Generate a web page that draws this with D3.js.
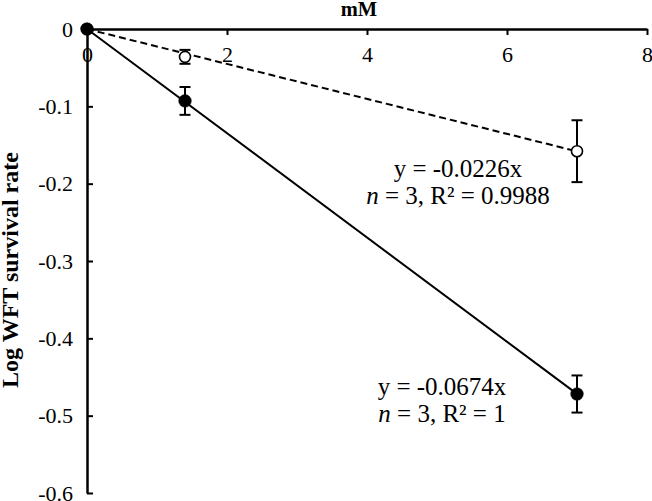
<!DOCTYPE html>
<html><head><meta charset="utf-8">
<script src="https://cdn.jsdelivr.net/npm/d3@7"></script>
<style>
body{margin:0;background:#fff;}
text{font-family:"Liberation Serif","Times New Roman",serif;fill:#000;}
</style></head>
<body><svg id="c" width="652" height="501"></svg>
<script>
const doses = [0, 1.4, 7];
const filledMean = [0, -0.093, -0.472];
const filledErr = [0, 0.018, 0.024];
const openMean = [0, -0.036, -0.158];
const openErr = [0, 0.009, 0.040];
const slopes = {filled: -0.0674, open: -0.0226};
const xTicks = [0, 2, 4, 6, 8];
const yTicks = [0, -0.1, -0.2, -0.3, -0.4, -0.5, -0.6];
const xTitle = "mM";
const yTitle = "Log WFT survival rate";
const annOpen = ["y = -0.0226x", "n = 3, R² = 0.9988"];
const annFilled = ["y = -0.0674x", "n = 3, R² = 1"];

const svg = d3.select("#c");
const x = d3.scaleLinear().domain([0, 8]).range([87, 647]);
const y = d3.scaleLinear().domain([0, -0.6]).range([29, 493]);

const fmtY = d => d === 0 ? "0" : "-" + d3.format(".1f")(Math.abs(d));
const xAxis = d3.axisBottom(x).tickValues(xTicks).tickSize(6).tickSizeOuter(0).tickFormat(d3.format("d"));
const gx = svg.append("g").attr("transform", `translate(0,${y(0)})`).call(xAxis);
const yAxis = d3.axisRight(y).tickValues(yTicks).tickSize(6).tickSizeOuter(0).tickFormat(fmtY);
const gy = svg.append("g").attr("transform", `translate(${x(0)},0)`).call(yAxis);
[gx, gy].forEach(g => {
  g.select(".domain").attr("stroke", "#000").attr("stroke-width", 2.5);
  g.selectAll(".tick line").attr("stroke", "#000").attr("stroke-width", 2);
  g.selectAll(".tick text").style("font-size", "22px").attr("fill", "#000");
});
gx.selectAll(".tick text").attr("y", 17);
gy.selectAll(".tick text").attr("x", -14).attr("text-anchor", "end").attr("dy", "0.33em");
gx.selectAll(".tick").filter(d => d === 0).select("line").remove();

svg.append("text").attr("x", 359).attr("y", 16).attr("text-anchor", "middle")
  .style("font-size", "20.5px").style("font-weight", "bold").text(xTitle);
svg.append("text").attr("transform", "translate(18,270) rotate(-90)").attr("text-anchor", "middle")
  .style("font-size", "24px").style("font-weight", "bold").text(yTitle);

const xEnd = d3.max(doses);
svg.append("line").attr("x1", x(0)).attr("y1", y(0)).attr("x2", x(xEnd)).attr("y2", y(slopes.open * xEnd))
  .attr("stroke", "#000").attr("stroke-width", 2).attr("stroke-dasharray", "7,4");
svg.append("line").attr("x1", x(0)).attr("y1", y(0)).attr("x2", x(xEnd)).attr("y2", y(slopes.filled * xEnd))
  .attr("stroke", "#000").attr("stroke-width", 2);

function drawSeries(mean, err, filled) {
  const data = doses.map((d, i) => ({d, m: mean[i], e: err[i]}));
  const g = svg.append("g");
  data.filter(p => p.e > 0).forEach(p => {
    const cx = x(p.d);
    g.append("line").attr("x1", cx).attr("x2", cx).attr("y1", y(p.m + p.e)).attr("y2", y(p.m - p.e)).attr("stroke", "#000").attr("stroke-width", 2);
    [p.m + p.e, p.m - p.e].forEach(v => g.append("line").attr("x1", cx - 5.5).attr("x2", cx + 5.5).attr("y1", y(v)).attr("y2", y(v)).attr("stroke", "#000").attr("stroke-width", 2));
  });
  g.selectAll("circle").data(data).join("circle")
    .attr("cx", p => x(p.d)).attr("cy", p => y(p.m))
    .attr("r", filled ? 6.3 : 5.5)
    .attr("fill", filled ? "#000" : "#fff").attr("stroke", "#000").attr("stroke-width", filled ? 0.5 : 1.6);
}
drawSeries(openMean, openErr, false);
drawSeries(filledMean, filledErr, true);

function ann(lines, cx, y0) {
  lines.forEach((t, i) => {
    const tx = svg.append("text").attr("x", cx).attr("y", y0 + i * 27).attr("text-anchor", "middle").style("font-size", "25px");
    if (t.startsWith("n ")) {
      tx.append("tspan").style("font-style", "italic").text("n");
      tx.append("tspan").text(t.slice(1));
    } else tx.text(t);
  });
}
ann(annOpen, 458, 177);
ann(annFilled, 442, 395);
</script></body></html>
